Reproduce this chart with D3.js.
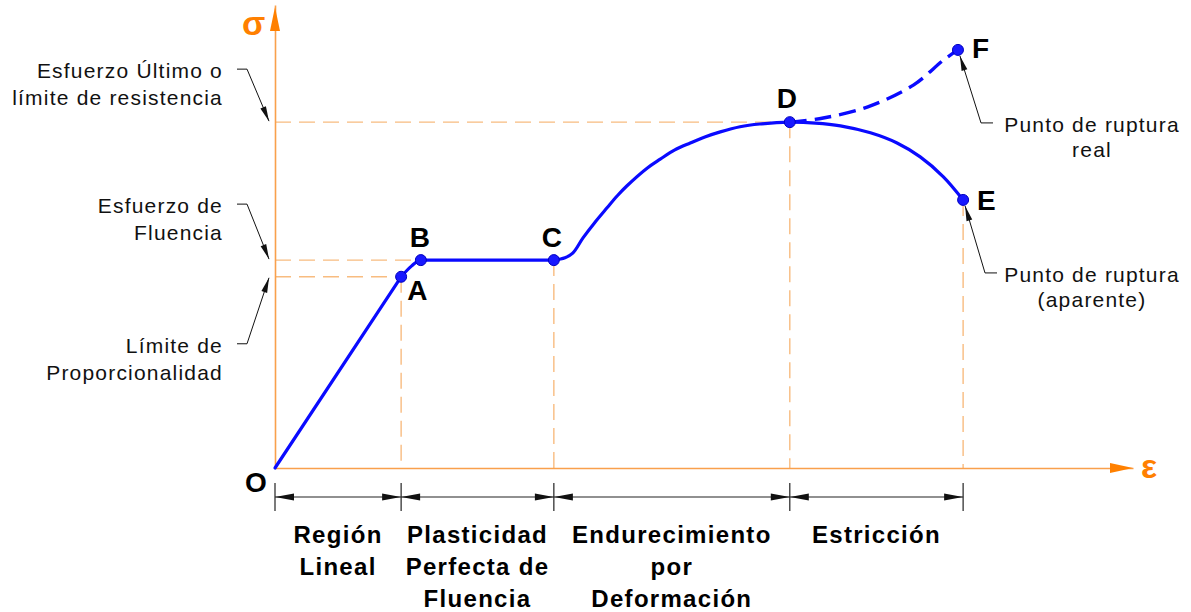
<!DOCTYPE html>
<html>
<head>
<meta charset="utf-8">
<script src="https://cdn.jsdelivr.net/npm/d3@7"></script>
<style>
    body { margin: 0; background: #fff; }
    text { font-family: "Liberation Sans", Arial, sans-serif; }
</style>
</head>
<body>
<svg id="chart" width="1191" height="612"></svg>
<script>
// Stress-strain curve, arbitrary units (0..100 on both axes)
// linear part O -> A
const linearStrain = [0, 14.7];
const linearStress = [0, 41.3];
// yield knee + plateau A -> C
const yieldStrain = [14.7, 15.9, 17.0, 32.5];
const yieldStress = [41.3, 43.6, 44.9, 44.9];
// hardening + necking C -> E
const hardStrain = [32.5, 33.8, 34.7, 35.9, 37.3, 38.7, 39.9, 41.0, 43.4, 44.9, 46.6, 48.4, 50.1, 51.9, 54.2, 56.5, 60.0, 63.0, 65.9, 69.4, 72.5, 75.2, 77.9, 80.2];
const hardStress = [44.9, 45.4, 46.4, 49.7, 53.1, 56.2, 58.8, 60.9, 64.8, 66.7, 68.7, 70.2, 71.5, 72.6, 73.7, 74.3, 74.7, 74.5, 73.9, 72.4, 70.2, 67.2, 62.9, 57.9];

// real (true stress) branch D -> F
const realStrain = [60.0, 63.9, 69.1, 74.4, 77.9, 79.6];
const realStress = [74.7, 75.6, 78.0, 82.7, 88.1, 90.3];

// key points
const pointNames = ["A", "B", "C", "D", "E", "F"];
const pointStrain = [14.7, 17.0, 32.5, 60.0, 80.2, 79.6];
const pointStress = [41.3, 44.9, 44.9, 74.7, 57.9, 90.3];

// regions under the strain axis
const regionBounds = [0, 14.7, 32.5, 60.0, 80.2];
const regionLabels = [
    ["Región", "Lineal"],
    ["Plasticidad", "Perfecta de", "Fluencia"],
    ["Endurecimiento", "por", "Deformación"],
    ["Estricción"]
];

// annotations
const stressLabels = [
    ["Esfuerzo Último o", "límite de resistencia"],
    ["Esfuerzo de", "Fluencia"],
    ["Límite de", "Proporcionalidad"]
];
const stressLabelPoint = ["D", "B", "A"];
const ruptureLabels = [
    ["Punto de ruptura", "real"],
    ["Punto de ruptura", "(aparente)"]
];
const rupturePoint = ["F", "E"];

const BLUE = "#0a0aff";
const ORANGE = "#ff8000";
const AXIS_ORANGE = "#f9a04c";
const DASH_ORANGE = "#f8bc80";

const svg = d3.select("#chart");

const x = d3.scaleLinear().domain([0, 100]).range([275, 1133]);
const y = d3.scaleLinear().domain([0, 100]).range([468, 5]);

const pt = {};
pointNames.forEach((n, i) => { pt[n] = { x: x(pointStrain[i]), y: y(pointStress[i]) }; });

// markers
const defs = svg.append("defs");
defs.append("marker")
    .attr("id", "dimArrow")
    .attr("viewBox", "-20 -5 20 10")
    .attr("refX", 0).attr("refY", 0)
    .attr("markerWidth", 20).attr("markerHeight", 10)
    .attr("markerUnits", "userSpaceOnUse")
    .attr("orient", "auto-start-reverse")
    .append("path")
        .attr("d", "M0,0L-19,-3.6L-19,3.6Z")
        .attr("fill", "#111");
defs.append("marker")
    .attr("id", "leadArrow")
    .attr("viewBox", "-16 -4 16 8")
    .attr("refX", 0).attr("refY", 0)
    .attr("markerWidth", 16).attr("markerHeight", 8)
    .attr("markerUnits", "userSpaceOnUse")
    .attr("orient", "auto")
    .append("path")
        .attr("d", "M0,0L-15,-3L-15,3Z")
        .attr("fill", "#111");

// Dashed reference lines
const refs = svg.append("g")
    .attr("stroke", DASH_ORANGE)
    .attr("stroke-width", 1.4)
    .attr("stroke-dasharray", "16,8")
    .attr("fill", "none");

["D", "B", "A"].forEach(n => {
    refs.append("line")
        .attr("x1", x(0)).attr("x2", pt[n].x)
        .attr("y1", pt[n].y).attr("y2", pt[n].y);
});
["A", "C", "D", "E"].forEach(n => {
    refs.append("line")
        .attr("x1", pt[n].x).attr("x2", pt[n].x)
        .attr("y1", pt[n].y).attr("y2", y(0));
});

// Axes (no ticks, just the lines + arrows)
const xAxis = svg.append("g")
    .attr("transform", `translate(0,${y(0)})`)
    .call(d3.axisBottom(x).tickValues([]).tickSizeOuter(0));
const yAxis = svg.append("g")
    .attr("transform", `translate(${x(0)},0)`)
    .call(d3.axisLeft(y).tickValues([]).tickSizeOuter(0));
[xAxis, yAxis].forEach(g => g.select(".domain")
    .attr("stroke", AXIS_ORANGE)
    .attr("stroke-width", 1.6));

svg.append("path")
    .attr("d", `M${x(100)},${y(0)}L${x(100) - 23},${y(0) - 5}L${x(100) - 23},${y(0) + 5}Z`)
    .attr("fill", ORANGE);
svg.append("path")
    .attr("d", `M${x(0)},${y(100) + 2}L${x(0) - 5},${y(100) + 26}L${x(0) + 5},${y(100) + 26}Z`)
    .attr("fill", ORANGE);

svg.append("text")
    .attr("x", x(0) - 33).attr("y", y(100) + 30)
    .attr("font-size", 34).attr("font-weight", "bold")
    .attr("fill", ORANGE)
    .text("σ");
svg.append("text")
    .attr("x", x(100) + 8).attr("y", y(0) + 10)
    .attr("font-size", 34).attr("font-weight", "bold")
    .attr("fill", ORANGE)
    .text("ε");

// Curves
const zip = (a, b) => a.map((v, i) => [v, b[i]]);
const lineOf = curve => d3.line()
    .x(d => x(d[0]))
    .y(d => y(d[1]))
    .curve(curve);

const pieces = [
    [zip(linearStrain, linearStress), d3.curveLinear],
    [zip(yieldStrain, yieldStress), d3.curveMonotoneX],
    [zip(hardStrain, hardStress), d3.curveCatmullRom.alpha(0.5)]
];
pieces.forEach(([data, curve]) => {
    svg.append("path")
        .datum(data)
        .attr("d", lineOf(curve))
        .attr("fill", "none")
        .attr("stroke", BLUE)
        .attr("stroke-width", 3.2)
        .attr("stroke-linecap", "round")
        .attr("stroke-linejoin", "round");
});

svg.append("path")
    .datum(zip(realStrain, realStress))
    .attr("d", lineOf(d3.curveCatmullRom.alpha(0.5)))
    .attr("fill", "none")
    .attr("stroke", BLUE)
    .attr("stroke-width", 3.4)
    .attr("stroke-dasharray", "17,8");

// Points
svg.append("g")
    .selectAll("circle")
    .data(pointNames)
    .join("circle")
        .attr("cx", n => pt[n].x)
        .attr("cy", n => pt[n].y)
        .attr("r", 5.5)
        .attr("fill", "#1818ff")
        .attr("stroke", "#0000c0")
        .attr("stroke-width", 1);

// Point letters
const letterOffset = { A: [6, 23], B: [-11, -13], C: [-12, -13], D: [-13, -14], E: [14, 10], F: [14, 8] };
svg.append("g")
    .attr("font-size", 28)
    .attr("font-weight", "bold")
    .attr("fill", "#000")
    .selectAll("text")
    .data(pointNames)
    .join("text")
        .attr("x", n => pt[n].x + letterOffset[n][0])
        .attr("y", n => pt[n].y + letterOffset[n][1])
        .text(n => n);
svg.append("text")
    .attr("x", x(0) - 30).attr("y", y(0) + 24)
    .attr("font-size", 28).attr("font-weight", "bold")
    .text("O");

// Dimension line with regions
const dimY = 497;
const dim = svg.append("g").attr("stroke", "#222").attr("stroke-width", 1.2);
regionBounds.forEach(b => {
    dim.append("line")
        .attr("x1", x(b)).attr("x2", x(b))
        .attr("y1", dimY - 14).attr("y2", dimY + 14);
});
d3.pairs(regionBounds).forEach(([a, b]) => {
    dim.append("line")
        .attr("x1", x(a)).attr("x2", x(b))
        .attr("y1", dimY).attr("y2", dimY)
        .attr("marker-start", "url(#dimArrow)")
        .attr("marker-end", "url(#dimArrow)");
});

const regionG = svg.append("g")
    .attr("font-size", 24)
    .attr("font-weight", "bold")
    .attr("letter-spacing", 1.3)
    .attr("text-anchor", "middle");
d3.pairs(regionBounds).forEach(([a, b], i) => {
    regionLabels[i].forEach((txt, j) => {
        regionG.append("text")
            .attr("x", (x(a) + x(b)) / 2)
            .attr("y", 543 + j * 32)
            .text(txt);
    });
});

// Left stress annotations
const leftOffset = { D: -44, B: -47, A: 76 };
stressLabels.forEach((lines, i) => {
    const n = stressLabelPoint[i];
    const base = pt[n].y + leftOffset[n];
    lines.forEach((txt, j) => {
        svg.append("text")
            .attr("x", 223)
            .attr("y", base + j * 27)
            .attr("font-size", 21)
            .attr("letter-spacing", 1.2)
            .attr("text-anchor", "end")
            .attr("fill", "#111")
            .text(txt);
    });
    const tipY = n === "A" ? pt[n].y + 1 : pt[n].y - 1;
    svg.append("path")
        .attr("d", `M237,${base - 9}L247,${base - 9}L${x(0) - 6},${tipY}`)
        .attr("fill", "none")
        .attr("stroke", "#111")
        .attr("stroke-width", 1)
        .attr("marker-end", "url(#leadArrow)");
});

// Right rupture annotations
ruptureLabels.forEach((lines, i) => {
    const n = rupturePoint[i];
    const base = pt[n].y + 82;
    lines.forEach((txt, j) => {
        svg.append("text")
            .attr("x", 1092)
            .attr("y", base + j * 25)
            .attr("font-size", 21)
            .attr("letter-spacing", 1.2)
            .attr("text-anchor", "middle")
            .attr("fill", "#111")
            .text(txt);
    });
    const ex = n === "F" ? 993 : 997;
    svg.append("path")
        .attr("d", `M${ex},${base - 9}L${ex - 12},${base - 9}L${pt[n].x + 2},${pt[n].y + 6}`)
        .attr("fill", "none")
        .attr("stroke", "#111")
        .attr("stroke-width", 1)
        .attr("marker-end", "url(#leadArrow)");
});
</script>
</body>
</html>
